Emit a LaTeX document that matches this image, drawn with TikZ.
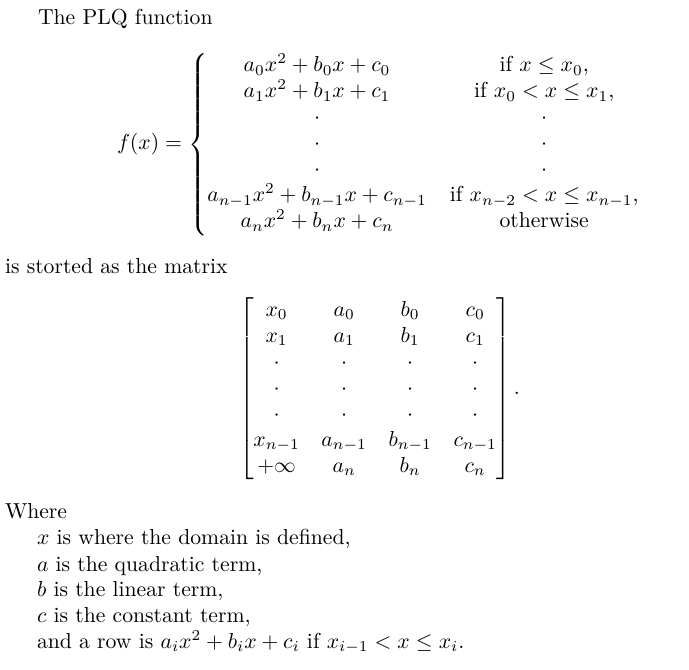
\documentclass[tikz,border=0pt]{standalone}
\usepackage{amsmath}
\begin{document}
\begin{tikzpicture}[x=0.4615pt,y=-0.4615pt,
  txt/.style={inner sep=0pt, outer sep=0pt, anchor=base west}]
\useasboundingbox (0,0) rectangle (689,670);
\node[txt] (title) at (38,25) {The PLQ function};
\node[txt] (fx) at (117,150) {$f(x) = \left\{\begin{array}{@{}c@{\hspace{10.6pt}}c@{}}
 a_0x^2 + b_0x + c_0 & \text{if } x \le x_0,\\
 a_1x^2 + b_1x + c_1 & \text{if } x_0 < x \le x_1,\\
 \cdot & \cdot\\
 \cdot & \cdot\\
 \cdot & \cdot\\
 a_{n-1}x^2 + b_{n-1}x + c_{n-1} & \text{if } x_{n-2} < x \le x_{n-1},\\
 a_nx^2 + b_nx + c_n & \text{otherwise}
\end{array}\right.$};
\node[txt] (stored) at (5,274) {is storted as the matrix};
\node[txt] (mat) at (239,394.5) {$\begin{bmatrix}
 x_0 & a_0 & b_0 & c_0\\
 x_1 & a_1 & b_1 & c_1\\
 \cdot & \cdot & \cdot & \cdot\\
 \cdot & \cdot & \cdot & \cdot\\
 \cdot & \cdot & \cdot & \cdot\\
 x_{n-1} & a_{n-1} & b_{n-1} & c_{n-1}\\
 +\infty & a_n & b_n & c_n
\end{bmatrix}\hspace{-0.5pt}.$};
\node[txt] (where) at (5,519) {Where};
\node[txt] (lx) at (37,545) {$x$ is where the domain is defined,};
\node[txt] (la) at (37,571) {$a$ is the quadratic term,};
\node[txt] (lb) at (37,597) {$b$ is the linear term,};
\node[txt] (lc) at (37,622) {$c$ is the constant term,};
\node[txt] (lrow) at (37,648) {and a row is $a_ix^2 + b_ix + c_i$ if $x_{i-1} < x \le x_i$.};
\end{tikzpicture}
\end{document}
